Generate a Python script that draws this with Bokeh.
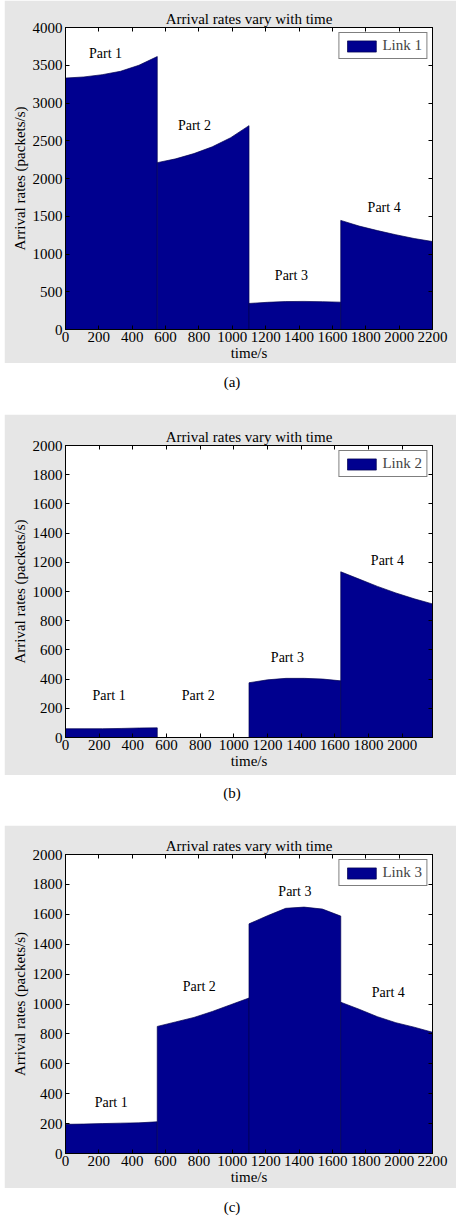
from bokeh.plotting import figure
from bokeh.models import (ColumnDataSource, Legend, LegendItem, Div, Range1d,
                          FixedTicker, LinearAxis)
from bokeh.layouts import column
from bokeh.embed import file_html
from bokeh.resources import INLINE
from bokeh.core.properties import value

# ---------------- data ----------------
part_labels = ["Part 1", "Part 2", "Part 3", "Part 4"]

# Link 1 (a)
link1_times = [[0, 110, 220, 330, 440, 550],
               [550, 660, 770, 880, 990, 1100],
               [1100, 1210, 1320, 1430, 1540, 1650],
               [1650, 1760, 1870, 1980, 2090, 2200]]
link1_rates = [[3330, 3345, 3375, 3420, 3500, 3615],
               [2210, 2260, 2330, 2420, 2540, 2700],
               [345, 360, 370, 372, 368, 362],
               [1445, 1370, 1310, 1255, 1205, 1165]]
link1_label_t = [240, 773, 1354, 1910]
link1_label_v = [3653, 2706, 713, 1620]

# Link 2 (b)
link2_times = [[0, 110, 220, 330, 440, 545],
               [545, 654, 763, 872, 981, 1090],
               [1090, 1200, 1310, 1420, 1530, 1635],
               [1635, 1744, 1853, 1962, 2071, 2180]]
link2_rates = [[60, 60, 60, 62, 65, 66],
               [0, 0, 0, 0, 0, 0],
               [375, 395, 405, 405, 400, 388],
               [1135, 1085, 1035, 990, 950, 915]]
link2_label_t = [259, 788, 1318, 1912]
link2_label_v = [288, 288, 548, 1212]

# Link 3 (c)
link3_times = [[0, 110, 220, 330, 440, 550],
               [550, 660, 770, 880, 990, 1100],
               [1100, 1210, 1320, 1430, 1540, 1650],
               [1650, 1760, 1870, 1980, 2090, 2200]]
link3_rates = [[195, 197, 200, 203, 205, 212],
               [850, 880, 910, 950, 995, 1040],
               [1536, 1590, 1640, 1648, 1635, 1588],
               [1012, 965, 915, 875, 845, 811]]
link3_label_t = [274, 802, 1375, 1935]
link3_label_v = [341, 1117, 1753, 1077]

x_ticks_full = [0, 200, 400, 600, 800, 1000, 1200, 1400, 1600, 1800, 2000, 2200]
x_ticks_b = [0, 200, 400, 600, 800, 1000, 1200, 1400, 1600, 1800, 2000]
y_ticks_a = [0, 500, 1000, 1500, 2000, 2500, 3000, 3500, 4000]
y_ticks_bc = [0, 200, 400, 600, 800, 1000, 1200, 1400, 1600, 1800, 2000]

FONT = "'Liberation Serif', 'Times New Roman', serif"
GRAY = "#e6e6e6"
NAVY = "#00008f"


def style_axis(ax):
    ax.major_tick_in = 4
    ax.major_tick_out = 0
    ax.minor_tick_line_color = None
    ax.axis_line_color = "black"
    ax.major_label_text_font = FONT
    ax.major_label_text_font_size = "15px"
    ax.major_label_text_color = "black"
    ax.axis_label_text_font = FONT
    ax.axis_label_text_font_size = "15px"
    ax.axis_label_text_font_style = "normal"
    ax.axis_label_text_color = "black"


def make_panel(times, rates, lab_t, lab_v, legend_label, x_end, y_end,
               x_ticks, y_ticks, height, borders):
    top, right, bottom, left = borders
    p = figure(width=452, height=height, output_backend="svg",
               toolbar_location=None, x_range=Range1d(0, x_end),
               y_range=Range1d(0, y_end),
               min_border_top=top, min_border_right=right,
               min_border_bottom=bottom, min_border_left=left,
               title="Arrival rates vary with time")
    p.margin = (0, 8, 0, 4)
    p.border_fill_color = GRAY
    p.background_fill_color = "white"
    p.outline_line_color = "black"
    p.outline_line_width = 1
    p.grid.visible = False

    p.title.text_font = FONT
    p.title.text_font_size = "15px"
    p.title.text_font_style = "normal"
    p.title.align = "center"
    p.title.standoff = 1
    p.title.text_color = "black"

    xs = [t + [t[-1], t[0]] for t in times]
    ys = [r + [0, 0] for r in rates]
    src = ColumnDataSource(dict(xs=xs, ys=ys))
    r = p.patches("xs", "ys", source=src, fill_color=NAVY,
                  line_color="#000050", line_width=0.7)

    lsrc = ColumnDataSource(dict(x=lab_t, y=lab_v, text=part_labels))
    p.text("x", "y", text="text", source=lsrc, text_font=value(FONT),
           text_font_size="14px", text_align="center",
           text_baseline="middle", text_color="black")

    style_axis(p.xaxis[0])
    style_axis(p.yaxis[0])
    p.xaxis[0].ticker = FixedTicker(ticks=x_ticks)
    p.yaxis[0].ticker = FixedTicker(ticks=y_ticks)
    p.xaxis[0].axis_label = "time/s"
    p.yaxis[0].axis_label = "Arrival rates (packets/s)"
    p.xaxis[0].major_label_standoff = 2
    p.xaxis[0].axis_label_standoff = 0
    p.yaxis[0].major_label_standoff = 3
    p.yaxis[0].axis_label_standoff = 2

    # mirrored inner ticks on the top and right edges (MATLAB box style)
    top_ax = LinearAxis(ticker=FixedTicker(ticks=x_ticks))
    right_ax = LinearAxis(ticker=FixedTicker(ticks=y_ticks))
    for ax in (top_ax, right_ax):
        style_axis(ax)
        ax.major_label_text_font_size = "0px"
        ax.major_label_text_alpha = 0
        ax.major_label_standoff = 0
    p.add_layout(top_ax, "above")
    p.add_layout(right_ax, "right")

    legend = Legend(items=[LegendItem(label=legend_label, renderers=[r])],
                    location="top_right")
    legend.border_line_color = "black"
    legend.border_line_width = 1
    legend.background_fill_color = "white"
    legend.background_fill_alpha = 1
    legend.label_text_font = FONT
    legend.label_text_font_size = "15px"
    legend.glyph_width = 36
    legend.glyph_height = 14
    legend.label_height = 14
    legend.label_standoff = 3
    legend.padding = 4
    legend.margin = 5
    legend.spacing = 0
    p.add_layout(legend)
    return p


def caption(txt, h, lh):
    return Div(text=txt, width=464, height=h, margin=(0, 0, 0, 0),
               styles={"font-family": FONT, "font-size": "15px",
                       "text-align": "center", "line-height": f"{lh}px",
                       "width": "464px", "color": "black"})


pa = make_panel(link1_times, link1_rates, link1_label_t, link1_label_v,
                "Link 1", 2200, 4000, x_ticks_full, y_ticks_a, 363,
                (27, 24, 33, 59))
pb = make_panel(link2_times, link2_rates, link2_label_t, link2_label_v,
                "Link 2", 2180, 2000, x_ticks_b, y_ticks_bc, 361,
                (31, 20, 38, 61))
pc = make_panel(link3_times, link3_rates, link3_label_t, link3_label_v,
                "Link 3", 2200, 2000, x_ticks_full, y_ticks_bc, 363,
                (29, 24, 35, 58))

layout = column(pa, caption("(a)", 51, 38), pb, caption("(b)", 50, 36),
                pc, caption("(c)", 28, 38), spacing=0)

open("out.html", "w").write(file_html(layout, INLINE))
